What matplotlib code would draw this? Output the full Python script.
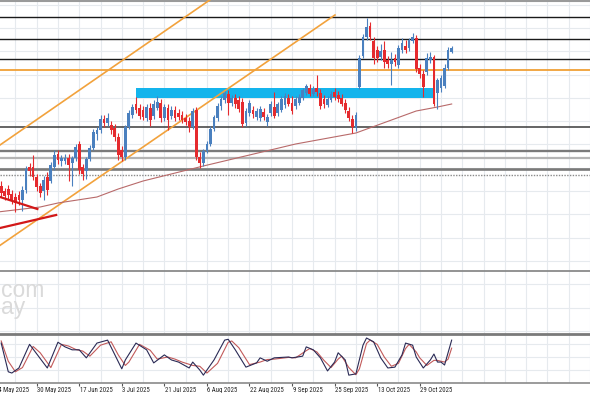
import numpy as np
import pandas as pd
import matplotlib
matplotlib.use('Agg')
import matplotlib.pyplot as plt
from matplotlib import font_manager
from matplotlib.transforms import blended_transform_factory, ScaledTranslation

# daily candles, values
open_ = np.array([216, 214, 209, 211, 206, 203, 205, 200, 210, 233,
                  233, 223, 214, 209, 223, 219, 233, 246, 239, 239,
                  242, 237, 242, 256, 233, 229, 241, 252, 266, 270,
                  281, 277, 275, 272, 263, 250, 243, 273, 285, 296,
                  292, 290, 282, 292, 284, 292, 297, 282, 292, 284,
                  290, 287, 285, 282, 279, 273, 290, 243, 237, 249,
                  256, 271, 282, 294, 300, 306, 297, 302, 300, 298,
                  277, 287, 290, 283, 282, 288, 278, 287, 293, 287,
                  290, 295, 302, 297, 294, 297, 302, 307, 312, 306,
                  312, 307, 301, 295, 300, 308, 305, 302, 297, 289,
                  281, 272, 313, 344, 363, 374, 359, 350, 343, 350,
                  340, 336, 342, 335, 350, 354, 352, 359, 362, 332,
                  326, 328, 340, 343, 307, 312, 314, 332, 348])
high = np.array([220, 219, 212, 215, 210, 207, 209, 214, 234, 237,
                 245, 226, 217, 224, 228, 238, 250, 250, 245, 246,
                 246, 244, 256, 259, 236, 243, 255, 271, 273, 285,
                 285, 287, 279, 276, 267, 254, 275, 290, 296, 303,
                 296, 294, 296, 297, 300, 304, 301, 296, 296, 294,
                 294, 291, 289, 286, 283, 292, 293, 248, 251, 259,
                 274, 285, 297, 304, 309, 310, 305, 306, 304, 302,
                 292, 300, 294, 292, 294, 292, 286, 299, 308, 298,
                 304, 307, 306, 304, 304, 306, 312, 316, 316, 314,
                 325, 311, 305, 304, 309, 312, 309, 306, 301, 293,
                 285, 288, 345, 366, 382, 378, 363, 354, 356, 359,
                 344, 348, 346, 355, 362, 360, 362, 367, 365, 336,
                 330, 347, 348, 345, 322, 325, 336, 353, 354])
low = np.array([206, 203, 200, 201, 196, 188, 195, 189, 207, 224,
                220, 209, 203, 200, 205, 217, 230, 236, 234, 236,
                219, 214, 239, 226, 220, 221, 239, 250, 260, 267,
                273, 274, 266, 259, 240, 239, 240, 271, 282, 287,
                281, 280, 279, 274, 281, 290, 278, 279, 270, 281,
                279, 280, 277, 275, 268, 271, 240, 232, 234, 247,
                254, 269, 279, 290, 297, 285, 294, 292, 288, 273,
                274, 284, 282, 280, 279, 280, 274, 284, 282, 284,
                288, 292, 294, 286, 291, 295, 300, 305, 304, 304,
                304, 291, 292, 293, 298, 300, 298, 294, 287, 279,
                267, 269, 311, 342, 360, 360, 336, 338, 340, 332,
                332, 315, 334, 332, 347, 347, 349, 357, 328, 322,
                303, 325, 337, 294, 291, 308, 312, 330, 347])
close = np.array([210, 207, 204, 205, 200, 197, 200, 210, 231, 229,
                  223, 213, 207, 220, 210, 235, 245, 240, 242, 242,
                  235, 242, 253, 230, 226, 241, 252, 268, 270, 281,
                  277, 282, 270, 263, 245, 243, 273, 287, 293, 290,
                  284, 283, 293, 280, 296, 298, 282, 293, 280, 290,
                  282, 283, 280, 278, 273, 289, 243, 237, 249, 256,
                  271, 283, 294, 301, 307, 297, 302, 296, 291, 276,
                  289, 297, 286, 289, 291, 283, 283, 296, 284, 296,
                  301, 304, 296, 289, 301, 303, 310, 314, 306, 311,
                  308, 294, 296, 301, 306, 303, 301, 296, 290, 282,
                  273, 285, 342, 363, 373, 363, 342, 342, 349, 338,
                  336, 340, 338, 352, 357, 350, 360, 363, 331, 326,
                  313, 342, 343, 296, 320, 322, 332, 350, 352])

# moving average, read at a few bars
ma_idx = [0, 12, 17, 28, 34, 41, 58, 84, 101, 118, 124, 128]
ma_val = [188, 193, 197, 203, 211, 219, 234, 256, 267, 289, 293, 296]

# stochastic %K / %D, read at a few bars
k_idx = [1, 3, 4, 6, 9, 14, 17, 19, 21, 23, 25, 28, 31, 35, 36, 39, 42, 44,
         47, 49, 51, 54, 55, 57, 58, 61, 64, 65, 67, 70, 73, 74, 76, 78, 82,
         83, 86, 87, 89, 91, 93, 95, 96, 98, 99, 101, 103, 104, 106, 108,
         110, 112, 114, 115, 117, 118, 120, 122, 123, 124, 125, 126, 128]
k_val = [83, 15, 12, 24, 80, 24, 85, 74, 67, 67, 48, 83, 90, 22, 43, 83, 67, 36,
         55, 43, 38, 24, 38, 19, 7, 43, 90, 92, 67, 26, 36, 48, 40, 48, 50,
         48, 52, 74, 67, 48, 17, 38, 60, 43, 7, 10, 78, 95, 86, 48,
         24, 26, 55, 83, 78, 50, 24, 43, 57, 38, 38, 31, 90]
d_idx = [1, 3, 5, 7, 10, 12, 15, 18, 20, 22, 24, 26, 29, 32, 34, 36, 37, 40,
         43, 45, 48, 50, 52, 55, 57, 59, 62, 65, 66, 68, 71, 74, 76, 78, 82,
         84, 87, 88, 90, 92, 94, 96, 97, 99, 101, 102, 104, 105, 107, 109,
         111, 113, 115, 116, 118, 119, 121, 123, 124, 126, 127, 128]
d_val = [88, 40, 15, 25, 75, 60, 25, 80, 76, 68, 64, 52, 78, 86, 55, 30, 38, 80,
         66, 45, 50, 45, 38, 30, 28, 12, 35, 85, 88, 72, 32, 38, 44, 45, 49,
         48, 65, 70, 62, 42, 25, 45, 52, 25, 8, 22, 82, 90, 80, 50,
         28, 35, 70, 80, 62, 48, 30, 42, 42, 38, 45, 71]

# horizontal levels drawn on the chart
black_levels = [383, 361.5, 341]
orange_level = 330
box_x = [39, 123]
box_y = [302, 312]

dates = pd.bdate_range('2025-05-14', periods=len(close) + 1)
label_idx = list(range(-1, len(close), 12))

up_col = '#4a80bf'
dn_col = '#e52a2e'

# narrow font for the date row if there is one
try:
    font_manager.findfont('Roboto Condensed', fallback_to_default=False)
    date_font, date_size = 'Roboto Condensed', 4.9
except Exception:
    date_font, date_size = 'Liberation Sans', 3.9

fig = plt.figure(figsize=(5.9, 3.93), dpi=100)
ax = fig.add_axes([0, 59 / 393, 1, 334 / 393])
ax2 = fig.add_axes([0, 10 / 393, 1, 49 / 393])

x0, x1 = 2.4 / 3.6, 592.4 / 3.6
for a in (ax, ax2):
    a.set_xlim(x0, x1)
    a.set_xticks(np.arange(5, 170, 6), minor=True)
    a.grid(True, which='minor', axis='x', color='#e6eaee', lw=0.8)
    a.grid(True, which='major', axis='y', color='#e6eaee', lw=0.8)
    a.tick_params(which='both', left=False, labelleft=False, length=0)
    for s in a.spines.values():
        s.set_visible(False)
    a.set_axisbelow(True)

ax.set_ylim(66, 400)
ax.set_yticks(np.arange(69.2, 400, 23.3))
ax.set_xticks([])

# level lines
ax.axhline(399, color='#9a9a9a', lw=1.5, zorder=2)
for lv in black_levels:
    ax.axhline(lv, color='#1a1a1a', lw=1.0, zorder=2)
ax.axhline(orange_level, color='#f0a036', lw=1.3, zorder=2)
ax.axhline(273, color='#3a3a3a', lw=1.1, zorder=2)
ax.axhline(249, color='#7a7a7a', lw=1.7, zorder=2)
ax.axhline(242, color='#b4b4b4', lw=1.6, zorder=2)
ax.axhline(231, color='#7a7a7a', lw=1.9, zorder=2)
ax.axhline(225.5, color='#8a8a8a', lw=1.0, ls=(0, (1, 1)), zorder=2)
ax.axhline(129, color='#8a8a8a', lw=1.3, zorder=2)

# channel and trend lines
ax.plot([0.667, 59.8], [255, 400], color='#f2a23c', lw=1.2, zorder=2)
ax.plot([-5, 95.1], [140.8, 385], color='#f2a23c', lw=1.2, zorder=2)
ax.plot([0.667, 11.2], [203, 191], color='#d21818', lw=1.6, zorder=4)
ax.plot([0.667, 16.5], [172, 185], color='#d21818', lw=1.6, zorder=4)

# support box
ax.fill_between(box_x, box_y[0], box_y[1], color='#14b4ec', lw=0, zorder=1)

# moving average
ax.plot(ma_idx, ma_val, color='#b86a6a', lw=0.8, zorder=3)

# candles
idx = np.arange(len(close))
cols = np.where(close >= open_, up_col, dn_col)
ax.vlines(idx, low, high, colors=cols, lw=0.8, zorder=3)
body = np.maximum(np.abs(close - open_), 1.0)
ax.bar(idx, body, bottom=np.minimum(open_, close), width=0.78, color=cols,
       lw=0, zorder=3)

# watermark (cut by the left edge)
fig.text(0.5 / 590, 1 - 314 / 393, 'com\nay', ha='left', va='baseline',
         fontsize=16.5, linespacing=0.68, color='#dadada',
         family='Liberation Sans')

# stochastic panel
ax2.set_ylim(-11.6, 104.5)
ax2.set_yticks([20, 50, 80])
ax2.spines['top'].set_visible(True)
ax2.spines['top'].set_color('#7a7a7a')
ax2.spines['top'].set_linewidth(2)
ax2.spines['bottom'].set_visible(True)
ax2.spines['bottom'].set_color('#8a8a8a')
ax2.spines['bottom'].set_linewidth(1.2)
ax2.plot(d_idx, d_val, color='#c25a5a', lw=0.8)
ax2.plot(k_idx, k_val, color='#2a2a55', lw=0.8)

ax2.set_xticks([i for i in label_idx if i > x0])
ax2.set_xticklabels([])
ax2.tick_params(axis='x', which='major', length=2.5, color='#555555',
                direction='out')
trans = blended_transform_factory(ax2.transData, ax2.transAxes) + \
    ScaledTranslation(0.5 / 100, 0, fig.dpi_scale_trans)
for i in label_idx:
    d = dates[i + 1]
    ax2.text(i, -0.08, f'{d.day} {d.strftime("%b %Y")}', transform=trans,
             ha='left', va='top', fontsize=date_size, color='#222222',
             family=date_font, clip_on=False)

fig.savefig('out.png', dpi=100)
